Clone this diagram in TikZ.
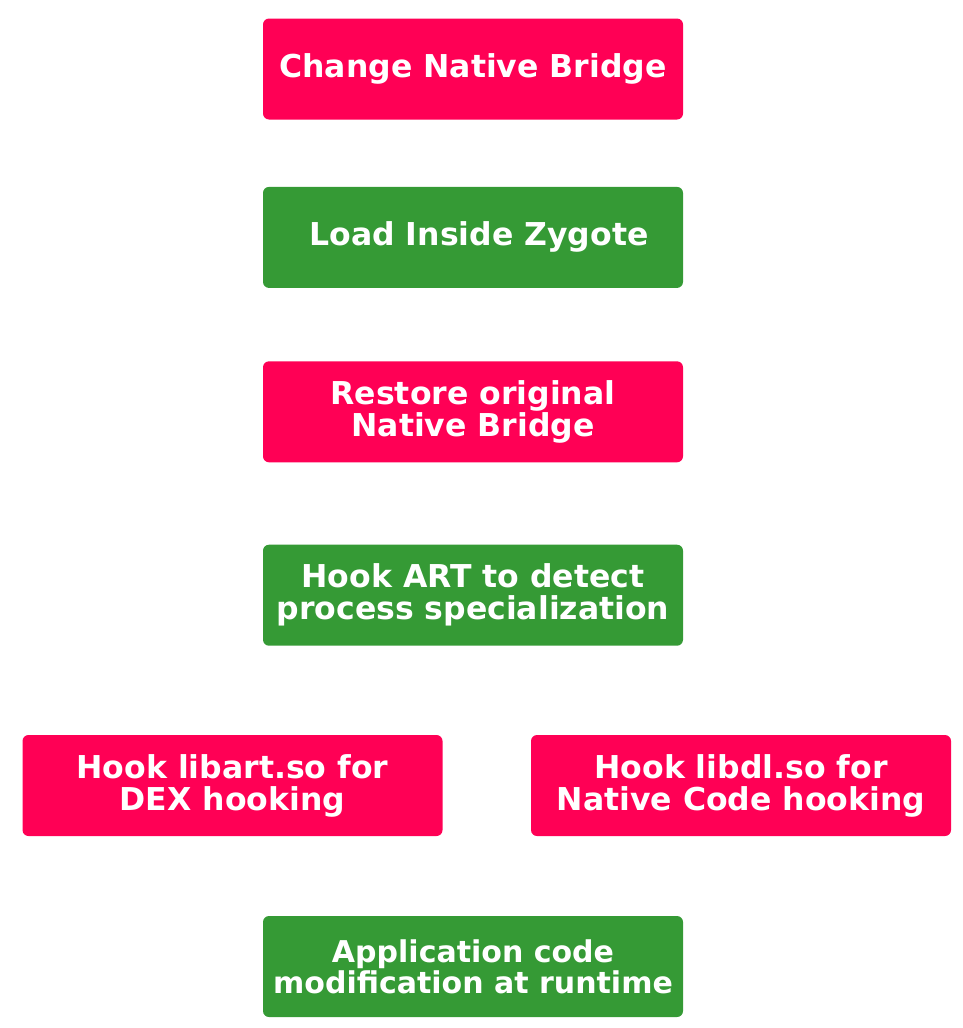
\documentclass[tikz,border=0pt]{standalone}
\usepackage{fontspec}
\setmainfont{DejaVu Sans}
\usepackage{tikz}
\usetikzlibrary{positioning}

\definecolor{stepred}{RGB}{255,0,85}
\definecolor{stepgreen}{RGB}{53,154,53}

\tikzset{
  stagebox/.style = {rectangle, rounded corners=6pt, minimum width=420pt, minimum height=101pt,
    inner sep=1pt, text=white, align=center, font=\bfseries\fontsize{31.5}{32}\selectfont},
  redbox/.style = {stagebox, fill=stepred},
  greenbox/.style = {stagebox, fill=stepgreen}
}

\begin{document}
\begin{tikzpicture}[x=1pt, y=1pt]
\useasboundingbox (0,0) rectangle (962,-1028);
\node[redbox] (change) at (473,-69) {Change Native Bridge};
\node[greenbox, below = 67pt of change] (load) {\hspace{12pt}Load Inside Zygote};
\node[redbox, below = 73pt of load] (restore) {Restore original\\Native Bridge};
\node[greenbox, below = 82pt of restore] (hookart) {Hook ART to detect\\process specialization};
\node[redbox] (libart) at (232.5,-785.5) {Hook libart.so for\\DEX hooking};
\node[redbox] (libdl) at (741,-785.5) {Hook libdl.so for\\Native Code hooking};
\node[greenbox, font=\bfseries\fontsize{30}{31}\selectfont] (appmod) at (473,-966.5) {Application code\\modification at runtime};
\end{tikzpicture}
\end{document}
